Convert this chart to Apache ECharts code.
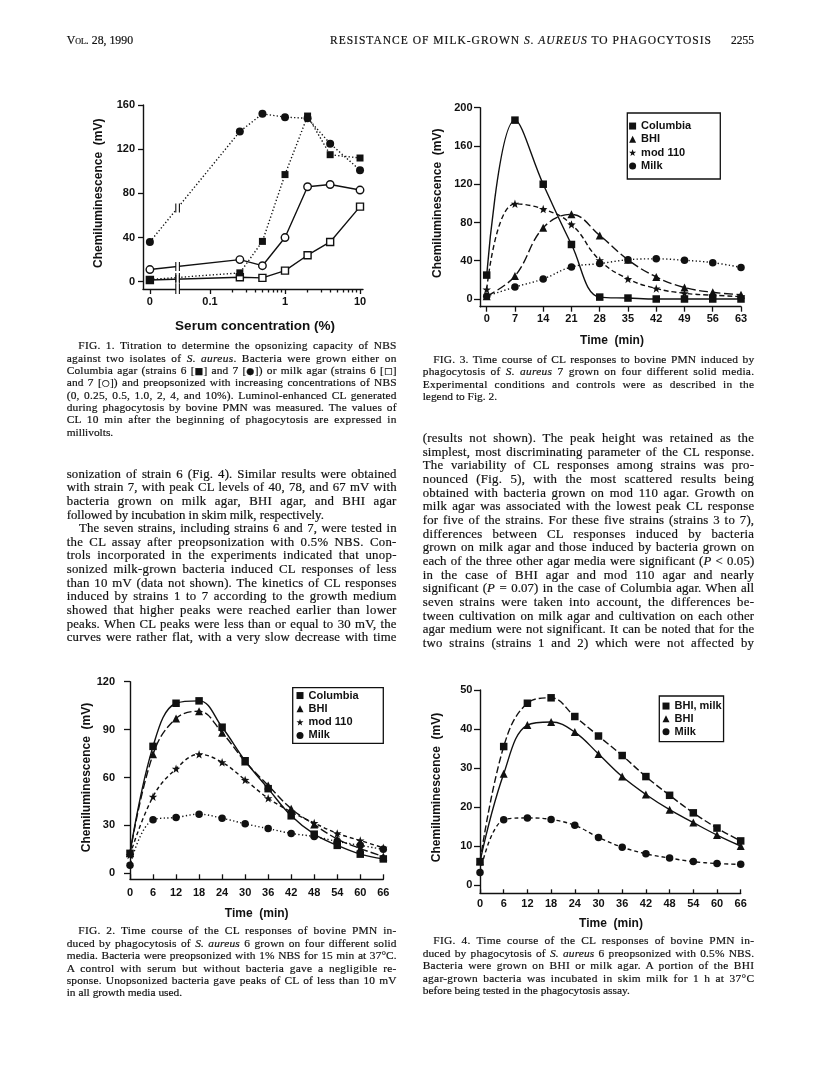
<!DOCTYPE html>
<html lang="en">
<head>
<meta charset="utf-8">
<title>Resistance of milk-grown S. aureus to phagocytosis</title>
<script src="https://cdn.jsdelivr.net/npm/echarts@6/dist/echarts.min.js"></script>
<style>
  html, body { margin:0; padding:0; background:#fff; }
  #page { position:relative; width:816px; height:1087px; overflow:hidden; background:#fff; }
  .chart { position:absolute; left:0; top:0; width:816px; height:1087px; }
  .ln { position:absolute; white-space:nowrap; font-family:"Liberation Serif","Times New Roman",Times,serif; color:#121212; line-height:1; -webkit-text-stroke:0.2px #121212; }
  .sym { font-family:"DejaVu Sans",sans-serif; font-size:0.8em; }
</style>
</head>
<body>
<div id="page">
  <div id="fig1" class="chart"></div>
  <div id="fig3" class="chart"></div>
  <div id="fig2" class="chart"></div>
  <div id="fig4" class="chart"></div>
  <div id="text"></div>
</div>
<script>
// ================= DATA =================
// FIG. 1 - CL (mV) vs serum concentration (%)
const fig1Concentrations  = [0, 0.25, 0.5, 1, 2, 4, 10];
const fig1Strain7Columbia = [36, 136, 152, 149, 148, 125, 101];   // filled circles
const fig1Strain6Columbia = [2, 8, 36.5, 97, 150, 115, 112];      // filled squares
const fig1Strain7Milk     = [11, 20, 14.5, 40, 86, 88, 83];       // open circles
const fig1Strain6Milk     = [1.5, 4, 3.5, 10, 24, 36, 68];        // open squares
const fig1YTicks       = [0, 40, 80, 120, 160];
const fig1XMajorTicks  = [0, 0.1, 1, 10];
const fig1XMinorTicks  = [0.2, 0.3, 0.4, 0.5, 0.6, 0.7, 0.8, 0.9, 2, 3, 4, 5, 6, 7, 8, 9];

// FIG. 3 - strain 7, four media
const fig3Times    = [0, 7, 14, 21, 28, 35, 42, 49, 56, 63];
const fig3Columbia = [25, 187, 120, 57, 2, 1, 0, 0, 0, 0];
const fig3BHI      = [3, 24, 74.5, 88.5, 66.5, 41, 23, 12, 7, 4.5];
const fig3Mod110   = [10, 99.5, 94, 78, 40.5, 21, 11, 6, 4, 2.5];
const fig3Milk     = [3, 12.5, 21, 33.5, 37, 41, 42, 40.5, 38, 33];
const fig3YTicks   = [0, 40, 80, 120, 160, 200];

// FIG. 2 - strain 6, four media
const fig2Times    = [0, 6, 12, 18, 24, 30, 36, 42, 48, 54, 60, 66];
const fig2Columbia = [12.5, 79.5, 106.5, 108, 91.5, 70.5, 53, 36, 24.5, 17.5, 12, 9];
const fig2BHI      = [12.5, 74.5, 97, 101.5, 88, 70, 55, 40.5, 30.5, 21.5, 15.5, 10.5];
const fig2Mod110   = [11.5, 48, 65.5, 74.5, 69.5, 58.5, 47, 38.5, 31.5, 25, 20.5, 16];
const fig2Milk     = [5, 33.5, 35, 37, 34.5, 31, 28, 25, 23, 20, 17.5, 15];
const fig2YTicks   = [0, 30, 60, 90, 120];

// FIG. 4 - strain 6, BHI / milk
const fig4Times   = [0, 6, 12, 18, 24, 30, 36, 42, 48, 54, 60, 66];
const fig4BHIMilk = [6, 35.5, 46.6, 48, 43.2, 38.2, 33.2, 27.8, 23, 18.5, 14.6, 11.3];
const fig4BHI     = [6, 28.5, 41, 41.8, 39.2, 33.6, 27.8, 23.2, 19.3, 16, 12.8, 10];
const fig4Milk    = [3.2, 16.7, 17.2, 16.8, 15.3, 12.2, 9.7, 8, 6.9, 6, 5.5, 5.3];
const fig4YTicks  = [0, 10, 20, 30, 40, 50];

// ================= STYLE HELPERS =================
const INK = '#111';
const SANS = '"Liberation Sans", Arial, Helvetica, sans-serif';
const tickFont = { fontFamily: SANS, fontWeight: 'bold', fontSize: 11, color: INK };
const STAR = 'path://M50,2 L61.8,36.2 L97.6,36.3 L69,57.9 L79.4,92.2 L50,71.5 L20.6,92.2 L31,57.9 L2.4,36.3 L38.2,36.2 Z';
const LW = 1.4;

function makeAxis(o) {
  const ax = {
    type: o.type || 'value', min: o.min, max: o.max, gridIndex: 0,
    position: o.pos,
    axisLine: { show: o.line !== false, onZero: false, lineStyle: { color: INK, width: 1.4 } },
    axisTick: { show: true, inside: !!o.inside, length: o.tickLen == null ? 5 : o.tickLen,
                customValues: o.ticks, lineStyle: { color: INK, width: 1.3 } },
    axisLabel: Object.assign({ show: o.labels !== false, margin: o.margin || 8,
                customValues: o.ticks }, tickFont),
    splitLine: { show: false }, minorTick: { show: false }, minorSplitLine: { show: false },
    axisPointer: { show: false }
  };
  if (o.formatter) ax.axisLabel.formatter = o.formatter;
  if (o.logBase) ax.logBase = o.logBase;
  return ax;
}

function series(name, xs, ys, o) {
  return {
    type: 'line', name: name, data: xs.map((x, i) => [x, ys[i]]),
    smooth: o.smooth || false, symbol: o.symbol, symbolSize: o.size || 7,
    showSymbol: true, silent: true, clip: false,
    lineStyle: { color: INK, width: LW, type: o.dash || 'solid' },
    itemStyle: o.open ? { color: '#fff', borderColor: INK, borderWidth: 1.4 }
                      : { color: INK, borderWidth: 0 },
    emphasis: { disabled: true }, z: o.z || 2
  };
}

const measureCtx = document.createElement('canvas').getContext('2d');
function textW(t) { measureCtx.font = 'bold 11px ' + SANS; return measureCtx.measureText(t).width; }

function legendBox(names, icons, box, padLeft, gap) {
  const rowH = 12;
  const maxW = Math.max.apply(null, names.map(textW));
  const padRight = Math.max(2, box.w - padLeft - 7 - 5 - maxW);
  const padV = (box.h - names.length * rowH - (names.length - 1) * gap) / 2;
  return {
    show: true, orient: 'vertical', left: box.x, top: box.y, selectedMode: false,
    padding: [padV, padRight, padV, padLeft], itemWidth: 7, itemHeight: 7, itemGap: gap,
    borderColor: INK, borderWidth: 1.3, backgroundColor: '#fff', borderRadius: 0,
    textStyle: Object.assign({ lineHeight: rowH }, tickFont),
    data: names.map((n, i) => ({ name: n, icon: icons[i], itemStyle: { color: INK, borderWidth: 0 } }))
  };
}

function titleText(text, x, y, size, rotate) {
  return { type: 'text', x: x, y: y, rotation: rotate ? Math.PI / 2 : 0, silent: true,
    style: { text: text, fill: INK, font: 'bold ' + size + 'px ' + SANS,
             textAlign: 'center', textVerticalAlign: 'middle', align: 'center', verticalAlign: 'middle' } };
}

const base = { animation: false, backgroundColor: 'transparent', tooltip: { show: false } };

// ================= FIG. 1 =================
const FIG1_ZERO = 0.0158;   // where "0 %" sits on the broken log axis
const FIG1_BREAK = 0.037;   // axis break between 0 and 0.1 %
const fig1X = fig1Concentrations.map(c => c === 0 ? FIG1_ZERO : c);
const c1 = echarts.init(document.getElementById('fig1'));
const fig1Titles = [
  titleText('Chemiluminescence  (mV)', 98.3, 193.3, 12, true),
  titleText('Serum concentration (%)', 255, 326, 13.5, false)
];
c1.setOption(Object.assign({}, base, {
  grid: { left: 143, top: 105, width: 220, height: 184, outerBoundsMode: 'none' },
  xAxis: [
    makeAxis({ type: 'log', logBase: 10, min: 0.01279, max: 10.96, pos: 'bottom',
      ticks: fig1XMajorTicks.map(c => c === 0 ? FIG1_ZERO : c), margin: 7, tickLen: 5,
      formatter: v => (v < 0.05 ? '0' : String(Number(Number(v).toPrecision(3)))) }),
    makeAxis({ type: 'log', logBase: 10, min: 0.01279, max: 10.96, pos: 'bottom',
      ticks: fig1XMinorTicks, labels: false, line: false, tickLen: 3.5 })
  ],
  yAxis: makeAxis({ min: -6.6, max: 160, pos: 'left', ticks: fig1YTicks, margin: 8, tickLen: 5 }),
  series: [
    series('Strain 6 milk', fig1X, fig1Strain6Milk, { symbol: 'rect', size: 7, open: true }),
    series('Strain 7 milk', fig1X, fig1Strain7Milk, { symbol: 'circle', size: 7.5, open: true }),
    series('Strain 6 Columbia', fig1X, fig1Strain6Columbia, { symbol: 'rect', size: 7, dash: [1.3, 2.2], z: 3 }),
    series('Strain 7 Columbia', fig1X, fig1Strain7Columbia, { symbol: 'circle', size: 8, dash: [1.3, 2.2], z: 3 })
  ],
  graphic: fig1Titles
}));
// axis-break marks, placed through the chart's own scales
(function () {
  const g = fig1Titles.slice();
  const bx = c1.convertToPixel({ xAxisIndex: 0, yAxisIndex: 0 }, [FIG1_BREAK, 0])[0];
  const mark = (yc, h) => {
    g.push({ type: 'rect', silent: true, z: 10, shape: { x: bx - 1.6, y: yc - h / 2, width: 3.2, height: h }, style: { fill: '#fff' } });
    g.push({ type: 'line', silent: true, z: 11, shape: { x1: bx - 1.8, y1: yc - h / 2 - 0.5, x2: bx - 1.8, y2: yc + h / 2 + 0.5 }, style: { stroke: INK, lineWidth: 1.1 } });
    g.push({ type: 'line', silent: true, z: 11, shape: { x1: bx + 1.8, y1: yc - h / 2 - 0.5, x2: bx + 1.8, y2: yc + h / 2 + 0.5 }, style: { stroke: INK, lineWidth: 1.1 } });
  };
  [fig1Strain7Columbia, fig1Strain6Columbia, fig1Strain7Milk, fig1Strain6Milk].forEach(ys => {
    const p0 = c1.convertToPixel({ xAxisIndex: 0, yAxisIndex: 0 }, [fig1X[0], ys[0]]);
    const p1 = c1.convertToPixel({ xAxisIndex: 0, yAxisIndex: 0 }, [fig1X[1], ys[1]]);
    const t = (bx - p0[0]) / (p1[0] - p0[0]);
    mark(p0[1] + t * (p1[1] - p0[1]), 8);
  });
  const axisY = c1.convertToPixel({ xAxisIndex: 0, yAxisIndex: 0 }, [FIG1_BREAK, -6.6])[1];
  mark(axisY, 9);
  c1.setOption({ graphic: g }, { replaceMerge: ['graphic'] });
})();

// ================= FIG. 3 =================
const c3 = echarts.init(document.getElementById('fig3'));
c3.setOption(Object.assign({}, base, {
  grid: { left: 480, top: 107.7, width: 261, height: 199, outerBoundsMode: 'none' },
  xAxis: makeAxis({ min: -1.66, max: 63, pos: 'bottom', ticks: fig3Times, margin: 7, tickLen: 5 }),
  yAxis: makeAxis({ min: -8.05, max: 200, pos: 'left', ticks: fig3YTicks, margin: 7.5, tickLen: 6 }),
  legend: legendBox(['Columbia', 'BHI', 'mod 110', 'Milk'], ['rect', 'triangle', STAR, 'circle'],
                    { x: 627.3, y: 113, w: 93, h: 66 }, 1.8, 1.3),
  series: [
    series('Milk', fig3Times, fig3Milk, { symbol: 'circle', size: 7.5, dash: [1.3, 2.4], smooth: 0.4 }),
    series('mod 110', fig3Times, fig3Mod110, { symbol: STAR, size: 8.5, dash: [5, 3], smooth: 0.45 }),
    series('BHI', fig3Times, fig3BHI, { symbol: 'triangle', size: 8, dash: [9, 3.5], smooth: 0.4 }),
    series('Columbia', fig3Times, fig3Columbia, { symbol: 'rect', size: 7.5, smooth: 0.4, z: 3 })
  ],
  graphic: [
    titleText('Chemiluminescence  (mV)', 437.3, 203.3, 12, true),
    titleText('Time  (min)', 612, 340.5, 12, false)
  ]
}));

// ================= FIG. 2 =================
const c2 = echarts.init(document.getElementById('fig2'));
c2.setOption(Object.assign({}, base, {
  grid: { left: 130, top: 681.7, width: 253.3, height: 197.6, outerBoundsMode: 'none' },
  xAxis: makeAxis({ min: 0, max: 66, pos: 'bottom', ticks: fig2Times, margin: 8, tickLen: 5, inside: true }),
  yAxis: makeAxis({ min: -3.76, max: 120, pos: 'left', ticks: fig2YTicks, margin: 15, tickLen: 6 }),
  legend: legendBox(['Columbia', 'BHI', 'mod 110', 'Milk'], ['rect', 'triangle', STAR, 'circle'],
                    { x: 292.7, y: 687.7, w: 90.6, h: 55.6 }, 3.8, 1.3),
  series: [
    series('Milk', fig2Times, fig2Milk, { symbol: 'circle', size: 7.5, dash: [1.3, 2.4], smooth: 0.4 }),
    series('mod 110', fig2Times, fig2Mod110, { symbol: STAR, size: 8.5, dash: [4, 3], smooth: 0.4 }),
    series('BHI', fig2Times, fig2BHI, { symbol: 'triangle', size: 8, dash: [8, 3], smooth: 0.4 }),
    series('Columbia', fig2Times, fig2Columbia, { symbol: 'rect', size: 7.5, smooth: 0.4, z: 3 })
  ],
  graphic: [
    titleText('Chemiluminescence  (mV)', 86.7, 777.5, 12, true),
    titleText('Time  (min)', 256.7, 913.3, 12, false)
  ]
}));

// ================= FIG. 4 =================
const c4 = echarts.init(document.getElementById('fig4'));
c4.setOption(Object.assign({}, base, {
  grid: { left: 480, top: 690, width: 260.7, height: 203.3, outerBoundsMode: 'none' },
  xAxis: makeAxis({ min: 0, max: 66, pos: 'bottom', ticks: fig4Times, margin: 5.5, tickLen: 4, inside: true }),
  yAxis: makeAxis({ min: -2.13, max: 50, pos: 'left', ticks: fig4YTicks, margin: 7.6, tickLen: 6 }),
  legend: legendBox(['BHI, milk', 'BHI', 'Milk'], ['rect', 'triangle', 'circle'],
                    { x: 659.3, y: 696, w: 63.4, h: 45.7 }, 3.2, 0.8),
  series: [
    series('Milk', fig4Times, fig4Milk, { symbol: 'circle', size: 7.5, dash: [4, 3], smooth: 0.4 }),
    series('BHI', fig4Times, fig4BHI, { symbol: 'triangle', size: 8, smooth: 0.4 }),
    series('BHI, milk', fig4Times, fig4BHIMilk, { symbol: 'rect', size: 7.5, dash: [7, 3], smooth: 0.4, z: 3 })
  ],
  graphic: [
    titleText('Chemiluminescence  (mV)', 436.7, 787.5, 12, true),
    titleText('Time  (min)', 611, 923.3, 12, false)
  ]
}));

// ================= PAGE TEXT =================
const host = document.getElementById('text');
// justify a single line: part of the slack goes to letter spacing, the rest to word spacing
function justify(el, w) {
  el.style.wordSpacing = '0px';
  el.style.letterSpacing = '0px';
  const nat = el.getBoundingClientRect().width;
  const txt = el.textContent;
  const n = (txt.match(/ /g) || []).length;
  const chars = txt.length;
  let slack = w - nat;
  if (slack > 0 && chars > 1) {
    const ls = Math.min(0.3, slack * 0.45 / chars);
    el.style.letterSpacing = ls + 'px';
    slack = w - el.getBoundingClientRect().width;
  }
  if (n) el.style.wordSpacing = (slack / n) + 'px';
}
function placeLines(lines, x, y0, dy, w, fs, indent) {
  lines.forEach((ln, i) => {
    const html = ln[0], flags = ln[1] || '';
    const el = document.createElement('div');
    el.className = 'ln';
    el.style.fontSize = fs + 'px';
    el.innerHTML = html;
    const ind = flags.indexOf('i') >= 0 ? indent : 0;
    el.style.left = (x + ind) + 'px';
    el.style.top = (y0 + i * dy - fs / 2) + 'px';
    host.appendChild(el);
    if (flags.indexOf('l') < 0) justify(el, w - ind);
  });
}
const S = s => '<span class="sym">' + s + '</span>';

// running head
placeLines([['<span style="font-variant:small-caps">Vol.</span> 28, 1990', 'l']], 66.7, 41, 0, 0, 11.8, 0);
(function () {
  const el = document.createElement('div');
  el.className = 'ln'; el.style.fontSize = '11.5px';
  el.innerHTML = 'RESISTANCE OF MILK-GROWN <i>S. AUREUS</i> TO PHAGOCYTOSIS';
  el.style.top = (41 - 5.75) + 'px'; el.style.left = '330px'; host.appendChild(el);
  const nat = el.getBoundingClientRect().width;
  el.style.letterSpacing = Math.max(0, (382 - nat) / el.textContent.length) + 'px';
  const pg = document.createElement('div');
  pg.className = 'ln'; pg.style.fontSize = '11.5px'; pg.textContent = '2255';
  pg.style.top = (41 - 5.75) + 'px'; host.appendChild(pg);
  pg.style.left = (754 - pg.getBoundingClientRect().width) + 'px';
})();

const CAP = 11.4, BODY = 12.8;
placeLines([
  ['FIG. 1. Titration to determine the opsonizing capacity of NBS', 'i'],
  ['against two isolates of <i>S. aureus</i>. Bacteria were grown either on'],
  ['Columbia agar (strains 6 [' + S('■') + '] and 7 [' + S('●') + ']) or milk agar (strains 6 [' + S('□') + ']'],
  ['and 7 [' + S('○') + ']) and preopsonized with increasing concentrations of NBS'],
  ['(0, 0.25, 0.5, 1.0, 2, 4, and 10%). Luminol-enhanced CL generated'],
  ['during phagocytosis by bovine PMN was measured. The values of'],
  ['CL 10 min after the beginning of phagocytosis are expressed in'],
  ['millivolts.', 'l']
], 66.7, 346, 12.33, 330, CAP, 11.6);

placeLines([
  ['sonization of strain 6 (Fig. 4). Similar results were obtained'],
  ['with strain 7, with peak CL levels of 40, 78, and 67 mV with'],
  ['bacteria grown on milk agar, BHI agar, and BHI agar'],
  ['followed by incubation in skim milk, respectively.', 'l'],
  ['The seven strains, including strains 6 and 7, were tested in', 'i'],
  ['the CL assay after preopsonization with 0.5% NBS. Con-'],
  ['trols incorporated in the experiments indicated that unop-'],
  ['sonized milk-grown bacteria induced CL responses of less'],
  ['than 10 mV (data not shown). The kinetics of CL responses'],
  ['induced by strains 1 to 7 according to the growth medium'],
  ['showed that higher peaks were reached earlier than lower'],
  ['peaks. When CL peaks were less than or equal to 30 mV, the'],
  ['curves were rather flat, with a very slow decrease with time']
], 66.7, 474, 13.64, 330, BODY, 12.3);

placeLines([
  ['FIG. 3. Time course of CL responses to bovine PMN induced by', 'i'],
  ['phagocytosis of <i>S. aureus</i> 7 grown on four different solid media.'],
  ['Experimental conditions and controls were as described in the'],
  ['legend to Fig. 2.', 'l']
], 422.7, 359.3, 12.45, 331.6, CAP, 10.6);

placeLines([
  ['(results not shown). The peak height was retained as the'],
  ['simplest, most discriminating parameter of the CL response.'],
  ['The variability of CL responses among strains was pro-'],
  ['nounced (Fig. 5), with the most scattered results being'],
  ['obtained with bacteria grown on mod 110 agar. Growth on'],
  ['milk agar was associated with the lowest peak CL response'],
  ['for five of the strains. For these five strains (strains 3 to 7),'],
  ['differences between CL responses induced by bacteria'],
  ['grown on milk agar and those induced by bacteria grown on'],
  ['each of the three other agar media were significant (<i>P</i> &lt; 0.05)'],
  ['in the case of BHI agar and mod 110 agar and nearly'],
  ['significant (<i>P</i> = 0.07) in the case of Columbia agar. When all'],
  ['seven strains were taken into account, the differences be-'],
  ['tween cultivation on milk agar and cultivation on each other'],
  ['agar medium were not significant. It can be noted that for the'],
  ['two strains (strains 1 and 2) which were not affected by']
], 422.7, 438.3, 13.67, 331.6, BODY, 12.3);

placeLines([
  ['FIG. 2. Time course of the CL responses of bovine PMN in-', 'i'],
  ['duced by phagocytosis of <i>S. aureus</i> 6 grown on four different solid'],
  ['media. Bacteria were preopsonized with 1% NBS for 15 min at 37°C.'],
  ['A control with serum but without bacteria gave a negligible re-'],
  ['sponse. Unopsonized bacteria gave peaks of CL of less than 10 mV'],
  ['in all growth media used.', 'l']
], 66.7, 931, 12.4, 330, CAP, 11.6);

placeLines([
  ['FIG. 4. Time course of the CL responses of bovine PMN in-', 'i'],
  ['duced by phagocytosis of <i>S. aureus</i> 6 preopsonized with 0.5% NBS.'],
  ['Bacteria were grown on BHI or milk agar. A portion of the BHI'],
  ['agar-grown bacteria was incubated in skim milk for 1 h at 37°C'],
  ['before being tested in the phagocytosis assay.', 'l']
], 422.7, 941, 12.4, 331.6, CAP, 10.6);
</script>
</body>
</html>
